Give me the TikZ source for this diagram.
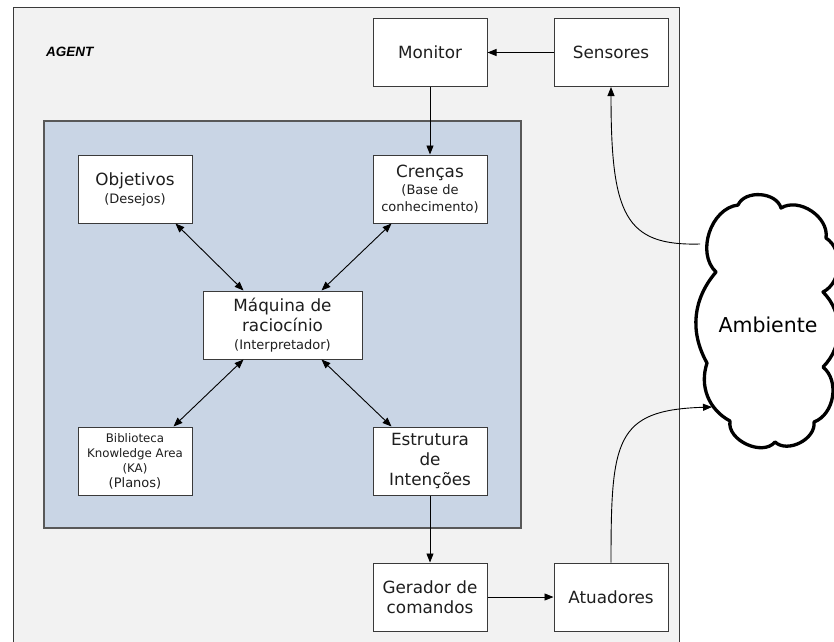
\documentclass[tikz,border=0pt]{standalone}
\usepackage{fontspec}
\setmainfont{DejaVu Sans}
\newfontfamily\agentfont{Liberation Sans}
\usetikzlibrary{arrows.meta}
\definecolor{agentbg}{HTML}{F2F2F2}
\definecolor{corebg}{HTML}{C9D5E5}
\definecolor{edgegray}{HTML}{3A3A3A}
\definecolor{txt}{HTML}{1E1E1E}
\tikzset{
  box/.style={draw=edgegray, line width=1pt, fill=white, minimum width=114pt,
    minimum height=68pt, inner sep=0pt, align=center, text=txt,
    font=\fontsize{16.8}{20}\selectfont},
  link/.style={draw=black, line width=0.9pt, -{Triangle[length=9pt,width=7pt]}},
  duplex/.style={draw=black, line width=0.9pt,
    {Triangle[length=9pt,width=7pt]}-{Triangle[length=9pt,width=7pt]}},
  curvelink/.style={draw=black, line width=0.9pt, -{Triangle[length=9pt,width=7pt]}},
}
\newcommand{\smalltxt}{\fontsize{13}{16}\selectfont}
\newcommand{\tinytxt}{\fontsize{11.8}{15}\selectfont}
\begin{document}
\begin{tikzpicture}[x=1pt,y=-1pt]
\clip (0,0) rectangle (834,641);
\fill[white] (0,0) rectangle (834,641);

% agent frame and reasoning core
\draw[fill=agentbg, draw=edgegray, line width=1pt] (13,7) rectangle (679,660);
\node[font=\agentfont\bfseries\itshape\fontsize{13.5}{15}\selectfont, anchor=west, inner sep=0pt] (agent) at (46,52) {AGENT};
\draw[fill=corebg, draw=edgegray!85, line width=1.3pt] (44,121) rectangle (521,528);

% components
\node[box] (mon) at (430,52.5) {Monitor};
\node[box] (sens) at (611,52.5) {Sensores};
\node[box] (obj) at (135,189) {Objetivos\\[-2pt]{\smalltxt (Desejos)}};
\node[box] (cren) at (430,189) {Crenças\\[-3pt]{\smalltxt (Base de}\\[-3pt]{\smalltxt conhecimento)}};
\node[box, minimum width=159pt] (maq) at (282.5,325) {Máquina de\\raciocínio\\[-2pt]{\smalltxt (Interpretador)}};
\node[box, font=\tinytxt] (bib) at (135,461) {Biblioteca\\Knowledge Area\\(KA)\\{\smalltxt (Planos)}};
\node[box] (est) at (430,461) {Estrutura\\de\\Intenções};
\node[box] (ger) at (430,597) {Gerador de\\comandos};
\node[box] (atu) at (611,597) {Atuadores};

% environment
\draw[line width=3.3pt, fill=white, line join=round]
  (716,272) to[bend left=65] (738,205)
  to[bend left=70] (781,208)
  to[bend left=65] (826,238)
  to[bend left=60] (823,292)
  to[bend left=45] (823,367)
  to[bend left=60] (814,422)
  to[bend left=70] (775,442)
  to[bend left=75] (730,421)
  to[bend left=40] (707,363)
  to[bend left=35] cycle;
\node[font=\fontsize{20.5}{24}\selectfont, text=black] (amb) at (768,325) {Ambiente};
\coordinate (ambout) at (700,244);
\coordinate (ambin) at (712,407);

% information flow
\draw[link] (sens) -- (mon);
\draw[link] (mon) -- (cren);
\draw[duplex] ([xshift=-17pt]obj.south east) -- ([xshift=41pt]maq.north west);
\draw[duplex] ([xshift=19pt]cren.south west) -- ([xshift=-41pt]maq.north east);
\draw[duplex] ([xshift=41pt]maq.south west) -- ([xshift=-19pt]bib.north east);
\draw[duplex] ([xshift=-41pt]maq.south east) -- ([xshift=19pt]est.north west);
\draw[link] (est) -- (ger);
\draw[link] (ger) -- (atu);
\draw[curvelink] (ambout) .. controls (625,246) and (611,215) .. (sens.south);
\draw[curvelink] (atu.north) .. controls (611,440) and (615,410) .. (ambin);
\end{tikzpicture}
\end{document}
